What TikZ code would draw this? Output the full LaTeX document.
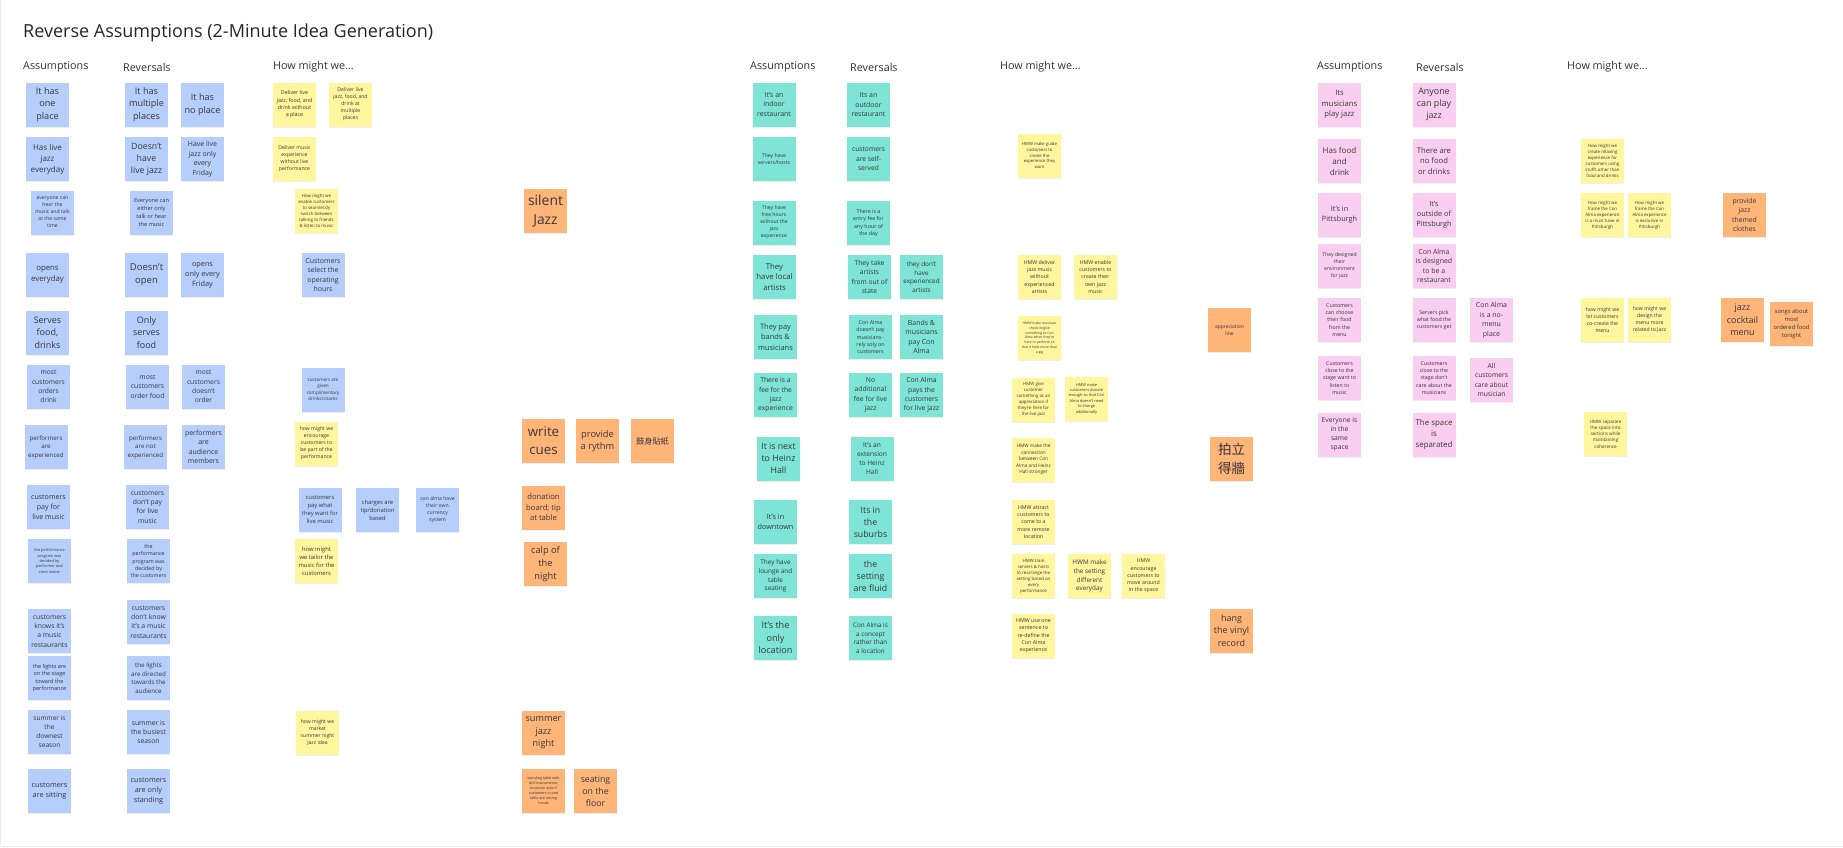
\documentclass[tikz,border=0pt]{standalone}
\usepackage{fontspec}
\setmainfont{Open Sans}
\newfontfamily\cjk{Noto Sans CJK TC}
\usetikzlibrary{shadows}
\definecolor{nblue}{RGB}{181,206,252}
\definecolor{nyel}{RGB}{255,246,158}
\definecolor{nteal}{RGB}{125,228,214}
\definecolor{npink}{RGB}{250,206,240}
\definecolor{norange}{RGB}{255,180,120}
\definecolor{textc}{RGB}{55,55,60}
\newcommand\F[1]{\fontsize{\fpeval{0.73*#1}}{#1}\selectfont}
\tikzset{
  note/.style={minimum width=43pt,minimum height=44pt,inner sep=0pt,align=center,text=textc,
    drop shadow={shadow xshift=0pt,shadow yshift=-1.3pt,opacity=0.12}},
  bl/.style={note,fill=nblue},
  ye/.style={note,fill=nyel},
  te/.style={note,fill=nteal},
  pk/.style={note,fill=npink},
  og/.style={note,fill=norange},
  hdr/.style={font=\fontsize{10.8}{13}\selectfont,text=black!80,inner sep=0pt,anchor=west},
}
\begin{document}
\begin{tikzpicture}[x=1pt,y=-1pt]
\useasboundingbox (0,0) rectangle (1843,847);
\fill[white] (0,0) rectangle (1843,847);
\draw[black!8,line width=1pt] (0.5,0) -- (0.5,846.5) -- (1843,846.5);
\node[anchor=west,inner sep=0pt,font=\fontsize{18}{22}\selectfont,text=black!85] (title) at (23,33) {Reverse Assumptions (2-Minute Idea Generation)};
% headers
\node[hdr] (hA1) at (23,67) {Assumptions};
\node[hdr] (hR1) at (123,67) {Reversals};
\node[hdr] (hH1) at (273,67) {How might we...};
\node[hdr] (hA2) at (750,67) {Assumptions};
\node[hdr] (hR2) at (850,67) {Reversals};
\node[hdr] (hH2) at (1000,67) {How might we...};
\node[hdr] (hA3) at (1317,67) {Assumptions};
\node[hdr] (hR3) at (1416,67) {Reversals};
\node[hdr] (hH3) at (1567,67) {How might we...};
% ---------- left section ----------
\node[bl,font=\F{12.5}] (a1) at (47.5,104.5) {It has\\one\\place};
\node[bl,font=\F{12.5}] (r1) at (146.5,104.5) {It has\\multiple\\places};
\node[bl,font=\F{12.5}] (r1b) at (202.5,104.5) {It has\\no place};
\node[ye,font=\F{7.3}] (h1) at (294.5,104.5) {Deliver live\\jazz, food, and\\drink without\\a place};
\node[ye,font=\F{7}] (h2) at (350.5,104.5) {Deliver live\\jazz, food, and\\drink at\\multiple\\places};
\node[bl,font=\F{11}] (a2) at (47.5,159) {Has live\\jazz\\everyday};
\node[bl,font=\F{12}] (r2) at (146.5,159) {Doesn't\\have\\live jazz};
\node[bl,font=\F{9.5}] (r2b) at (202.5,159) {Have live\\jazz only\\every\\Friday};
\node[ye,font=\F{7}] (h3) at (294.5,159) {Deliver music\\experience\\without live\\performance};
\node[bl,font=\F{7}] (a3) at (52.5,212.5) {everyone can\\hear the\\music and talk\\at the same\\time};
\node[bl,font=\F{7.7}] (r3) at (151.5,212.5) {Everyone can\\either only\\talk or hear\\the music};
\node[ye,font=\F{6}] (h4) at (316.5,211) {How might we\\enable customers\\to seamlessly\\switch between\\talking to friends\\\& listen to music};
\node[bl,font=\F{10.7}] (a4) at (47.5,275) {opens\\everyday};
\node[bl,font=\F{13}] (r4) at (146.5,275) {Doesn't\\open};
\node[bl,font=\F{10}] (r4b) at (202.5,275) {opens\\only every\\Friday};
\node[bl,font=\F{9.5}] (h5) at (323,275) {Customers\\select the\\operating\\hours};
\node[bl,font=\F{12.3}] (a5) at (47.5,332.5) {Serves\\food,\\drinks};
\node[bl,font=\F{12.3}] (r5) at (146.5,332.5) {Only\\serves\\food};
\node[bl,font=\F{9.2}] (a6) at (48.5,386.5) {most\\customers\\orders\\drink};
\node[bl,font=\F{9.3}] (r6) at (147.5,386.5) {most\\customers\\order food};
\node[bl,font=\F{9.2}] (r6b) at (203.5,386.5) {most\\customers\\doesn't\\order};
\node[bl,font=\F{6.3}] (h6) at (323,389.5) {customers are\\given\\complimentary\\drinks/snacks};
\node[bl,font=\F{8.5}] (a7) at (46,447) {performers\\are\\experienced};
\node[bl,font=\F{8.5}] (r7) at (145.5,447) {performers\\are not\\experienced};
\node[bl,font=\F{9.5}] (r7b) at (203.5,447) {performers\\are\\audience\\members};
\node[ye,font=\F{7}] (h7) at (316.5,443.5) {how might we\\encourage\\customers to\\be part of the\\performance};
\node[bl,font=\F{9.7}] (a8) at (48.5,507) {customers\\pay for\\live music};
\node[bl,font=\F{9.3}] (r8) at (147.5,507) {customers\\don't pay\\for live\\music};
\node[bl,font=\F{8}] (h8) at (320,509.5) {customers\\pay what\\they want for\\live music};
\node[bl,font=\F{8}] (h8b) at (377.5,510) {charges are\\tip/donation\\based};
\node[bl,font=\F{7}] (h8c) at (437.5,510) {con alma have\\their own\\currency\\system};
\node[bl,font=\F{5.3}] (a9) at (49.5,561) {the performance\\program was\\decided by\\performer and\\store owner};
\node[bl,font=\F{7.3}] (r9) at (148.5,561) {the\\performance\\program was\\decided by\\the customers};
\node[ye,font=\F{8}] (h9) at (316.5,561) {how might\\we tailor the\\music for the\\customers};
\node[bl,font=\F{9.3}] (a10) at (49.5,631) {customers\\knows it's\\a music\\restaurants};
\node[bl,font=\F{9.3}] (r10) at (148.5,622) {customers\\don't know\\it's a music\\restaurants};
\node[bl,font=\F{7.6}] (a11) at (49.5,678) {the lights are\\on the stage\\toward the\\performance};
\node[bl,font=\F{8.5}] (r11) at (148.5,678) {the lights\\are directed\\towards the\\audience};
\node[bl,font=\F{9}] (a12) at (49.5,732) {summer is\\the\\downest\\season};
\node[bl,font=\F{9.3}] (r12) at (148.5,732) {summer is\\the busiest\\season};
\node[ye,font=\F{7}] (h12) at (317.5,732.5) {how might we\\market\\summer night\\Jazz idea};
\node[bl,font=\F{10}] (a13) at (49.5,791) {customers\\are sitting};
\node[bl,font=\F{10}] (r13) at (148.5,791) {customers\\are only\\standing};
% orange, left
\node[og,font=\F{19}] (o1) at (545.5,211) {silent\\Jazz};
\node[og,font=\F{18.3}] (o2) at (543.5,441) {write\\cues};
\node[og,font=\F{12.7}] (o3) at (597.5,441) {provide\\a rythm};
\node[og,font=\cjk\fontsize{8.2}{11}\selectfont] (o4) at (652.5,441) {鼓身貼紙};
\node[og,font=\F{10.5}] (o5) at (543.5,507.5) {donation\\board; tip\\at table};
\node[og,font=\F{12.7}] (o6) at (545.5,564) {calp of\\the\\night};
\node[og,font=\F{12.5}] (o7) at (543.5,733) {summer\\jazz\\night};
\node[og,font=\F{5}] (o8) at (543.5,791) {standing table with\\drill instruments;\\musician asks if\\customers in one\\table are raising\\hands};
\node[og,font=\F{12}] (o9) at (595.5,791) {seating\\on the\\floor};
% ---------- middle section ----------
\node[te,font=\F{9.5}] (ma1) at (774,104.5) {It's an\\indoor\\restaurant};
\node[te,font=\F{9.5}] (mr1) at (868.5,105) {Its an\\outdoor\\restaurant};
\node[te,font=\F{7}] (ma2) at (774,159) {They have\\servers/hosts};
\node[te,font=\F{9.2}] (mr2) at (868.5,159) {customers\\are self-\\served};
\node[ye,font=\F{5.8}] (mh2) at (1039.5,155.5) {HMW make guide\\customers to\\create the\\experience they\\want};
\node[te,font=\F{7}] (ma3) at (774,222.5) {They have\\free hours\\without the\\jazz\\experience};
\node[te,font=\F{7.3}] (mr3) at (868.5,223) {There is a\\entry fee for\\any hour of\\the day};
\node[te,font=\F{10.7}] (ma4) at (774.5,277) {They\\have local\\artists};
\node[te,font=\F{9.2}] (mr4) at (869.5,277) {They take\\artists\\from out of\\state};
\node[te,font=\F{8.7}] (mr4b) at (921.5,277) {they don't\\have\\experienced\\artists};
\node[ye,font=\F{7.2}] (mh4) at (1039.5,277) {HMW deliver\\jazz music\\without\\experienced\\artists};
\node[ye,font=\F{7.2}] (mh4b) at (1095.5,277) {HMW enable\\customers to\\create their\\own jazz\\music};
\node[te,font=\F{10.2}] (ma5) at (775.5,337) {They pay\\bands \&\\musicians};
\node[te,font=\F{7.3}] (mr5) at (870.5,337) {Con Alma\\doesn't pay\\musicians -\\rely soly on\\customers};
\node[te,font=\F{9.5}] (mr5b) at (921.5,337) {Bands \&\\musicians\\pay Con\\Alma};
\node[ye,font=\F{4.7}] (mh5) at (1039.5,338) {HMW make musician\\check in/give\\something to Con\\Alma when they're\\here to perform so\\that it feels more than\\a gig};
\node[og,font=\F{6.7}] (mo5) at (1229.5,330) {appreciation\\line};
\node[te,font=\F{9.3}] (ma6) at (775.5,395) {There is a\\fee for the\\jazz\\experience};
\node[te,font=\F{9.3}] (mr6) at (870.5,395) {No\\additional\\fee for live\\jazz};
\node[te,font=\F{9.3}] (mr6b) at (921.5,395) {Con Alma\\pays the\\customers\\for live jazz};
\node[ye,font=\F{6}] (mh6) at (1033.5,399.5) {HMW give\\customer\\something as an\\appreciation if\\they're here for\\the live jazz};
\node[ye,font=\F{5.4}] (mh6b) at (1086.5,398.5) {HMW make\\customers donate\\enough so that Con\\Alma doesn't need\\to charge\\additionally};
\node[te,font=\F{12}] (ma7) at (778.5,458.5) {It is next\\to Heinz\\Hall};
\node[te,font=\F{9}] (mr7) at (872,458.5) {It's an\\extension\\to Heinz\\Hall};
\node[ye,font=\F{6.5}] (mh7) at (1033.5,459.5) {HMW make the\\connection\\between Con\\Alma and Heinz\\Hall stronger};
\node[og,font=\cjk\fontsize{13.5}{19}\selectfont] (mo7) at (1231.5,459) {拍立\\得牆};
\node[te,font=\F{10}] (ma8) at (775.5,522) {It's in\\downtown};
\node[te,font=\F{12}] (mr8) at (870.5,522) {Its in\\the\\suburbs};
\node[ye,font=\F{7.2}] (mh8) at (1033.5,522) {HMW attract\\customers to\\come to a\\more remote\\location};
\node[te,font=\F{8.8}] (ma9) at (775.5,576) {They have\\lounge and\\table\\seating};
\node[te,font=\F{12}] (mr9) at (870.5,576) {the\\setting\\are fluid};
\node[ye,font=\F{6}] (mh9) at (1033.5,576) {HMW train\\servers \& hosts\\to rearrange the\\setting based on\\every\\performance};
\node[ye,font=\F{8.7}] (mh9b) at (1089.5,576) {HWM make\\the setting\\different\\everyday};
\node[ye,font=\F{7.2}] (mh9c) at (1143.5,576) {HMW\\encourage\\customers to\\move around\\in the space};
\node[og,font=\F{12.3}] (mo9) at (1231.5,630.5) {hang\\the vinyl\\record};
\node[te,font=\F{12.5}] (ma10) at (775.5,638) {It's the\\only\\location};
\node[te,font=\F{8.7}] (mr10) at (870.5,638) {Con Alma is\\a concept\\rather than\\a location};
\node[ye,font=\F{7.3}] (mh10) at (1033.5,636) {HMW use one\\sentence to\\re-define the\\Con Alma\\experience};
% ---------- right section ----------
\node[pk,font=\F{10.5}] (ra1) at (1339.5,104.5) {Its\\musicians\\play jazz};
\node[pk,font=\F{12.2}] (rr1) at (1434,104.5) {Anyone\\can play\\jazz};
\node[pk,font=\F{11}] (ra2) at (1339.5,161) {Has food\\and\\drink};
\node[pk,font=\F{10.5}] (rr2) at (1434,161) {There are\\no food\\or drinks};
\node[ye,font=\F{6}] (rh2) at (1602.5,161) {How might we\\create relaxing\\experience for\\customers using\\stuffs other than\\food and drinks};
\node[pk,font=\F{10}] (ra3) at (1339.5,215) {It's in\\Pittsburgh};
\node[pk,font=\F{10}] (rr3) at (1434,215) {It's\\outside of\\Pittsburgh};
\node[ye,font=\F{6}] (rh3) at (1602.5,215) {How might we\\frame the Con\\Alma experience\\is a must have in\\Pittsburgh};
\node[ye,font=\F{6}] (rh3b) at (1649.5,215) {How might we\\frame the Con\\Alma experience\\is exclusive in\\Pittsburgh};
\node[og,font=\F{9.3}] (ro3) at (1744.5,215) {provide\\jazz\\themed\\clothes};
\node[pk,font=\F{7}] (ra4) at (1339.5,266) {They designed\\their\\environment\\for jazz};
\node[pk,font=\F{9.5}] (rr4) at (1434,266) {Con Alma\\is designed\\to be a\\restaurant};
\node[pk,font=\F{7.2}] (ra5) at (1339.5,320) {Customers\\can choose\\their food\\from the\\menu};
\node[pk,font=\F{7.2}] (rr5) at (1434,320) {Servers pick\\what food the\\customers get};
\node[pk,font=\F{9.5}] (rr5b) at (1491.5,320) {Con Alma\\is a no-\\menu\\place};
\node[ye,font=\F{7}] (rh5) at (1602.5,320) {how might we\\let customers\\co-create the\\menu};
\node[ye,font=\F{7}] (rh5b) at (1649.5,320) {how might we\\design the\\menu more\\related to Jazz};
\node[og,font=\F{12.3}] (ro5) at (1742.5,320) {jazz\\cocktail\\menu};
\node[og,font=\F{8}] (ro5b) at (1791.5,324) {songs about\\most\\ordered food\\tonight};
\node[pk,font=\F{7.2}] (ra6) at (1339.5,378) {Customers\\close to the\\stage want to\\listen to\\music};
\node[pk,font=\F{7.2}] (rr6) at (1434,378) {Customers\\close to the\\stage don't\\care about the\\musicians};
\node[pk,font=\F{9.2}] (rr6b) at (1491.5,380) {All\\customers\\care about\\musician};
\node[pk,font=\F{9.2}] (ra7) at (1339.5,434.5) {Everyone is\\in the\\same\\space};
\node[pk,font=\F{10.8}] (rr7) at (1434,434.5) {The space\\is\\separated};
\node[ye,font=\F{6.3}] (rh7) at (1605.5,434) {HMW separate\\the space into\\sections while\\maintaining\\coherence};
\end{tikzpicture}
\end{document}
